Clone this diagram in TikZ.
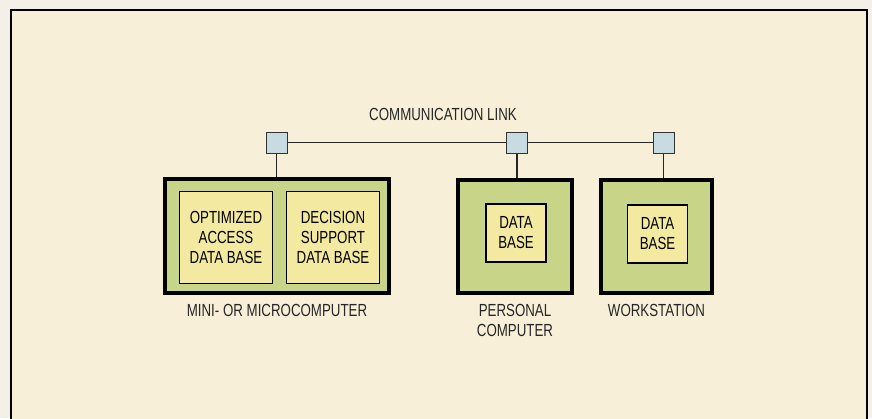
\documentclass[tikz,border=0pt]{standalone}
\usepackage{fontspec}
\setmainfont[FakeStretch=0.76]{Liberation Sans}
\usetikzlibrary{positioning}

\definecolor{paper}{RGB}{247,239,215}
\definecolor{margin}{RGB}{244,240,231}
\definecolor{boxgreen}{RGB}{200,213,136}
\definecolor{dbyellow}{RGB}{243,233,160}
\definecolor{portblue}{RGB}{200,218,226}

\tikzset{
  machine/.style={draw=black, line width=3.2pt, fill=boxgreen, inner sep=0pt},
  dbase/.style={draw=black, line width=1.4pt, fill=dbyellow, align=center, inner sep=0pt},
  port/.style={draw=black!80, line width=1pt, fill=portblue, minimum size=21pt, inner sep=0pt},
  caption/.style={align=center, inner sep=0pt, text=black!85},
  link/.style={black!85, line width=1.2pt},
}

\begin{document}
\begin{tikzpicture}[x=1pt, y=-1pt, font=\fontsize{17.5}{20}\selectfont]

\useasboundingbox (0,0) rectangle (872,418);
\clip (0,0) rectangle (872,418);
\fill[margin] (0,0) rectangle (872,418);
\draw[fill=paper, line width=2.8pt] (11,10) rectangle (867,440);

% the three computers
\node[machine, minimum width=224pt, minimum height=114pt] (mini) at (277,236) {};
\node[machine, minimum width=114pt, minimum height=113pt] (pc) at (515,236.5) {};
\node[machine, minimum width=111pt, minimum height=113pt] (ws) at (656.5,236.5) {};

% data bases inside them
\node[dbase, minimum width=93pt, minimum height=92pt] (odb) at (226,237.5) {OPTIMIZED\\ACCESS\\DATA BASE};
\node[dbase, minimum width=93pt, minimum height=92pt] (dsdb) at (333,237.5) {DECISION\\SUPPORT\\DATA BASE};
\node[dbase, minimum width=60pt, minimum height=58pt] (pcdb) at (516,233) {DATA\\BASE};
\node[dbase, minimum width=60pt, minimum height=58pt] (wsdb) at (657.5,234) {DATA\\BASE};

% network ports
\node[port] (p1) at (276.5,142.5) {};
\node[port] (p2) at (517,142.5) {};
\node[port] (p3) at (663.5,142.5) {};

\draw[link] (p1.east) -- (p2.west) (p2.east) -- (p3.west);
\draw[link] (p1.south) -- (p1.south |- mini.north);
\draw[link] (p2.south) -- (p2.south |- pc.north);
\draw[link] (p3.south) -- (p3.south |- ws.north);

% captions
\node[caption] (linklbl) at (443,114) {COMMUNICATION LINK};
\node[caption, below=9pt of mini] (minilbl) {MINI- OR MICROCOMPUTER};
\node[caption, below=9pt of pc] (pclbl) {PERSONAL\\COMPUTER};
\node[caption, below=9pt of ws] (wslbl) {WORKSTATION};

\end{tikzpicture}
\end{document}
